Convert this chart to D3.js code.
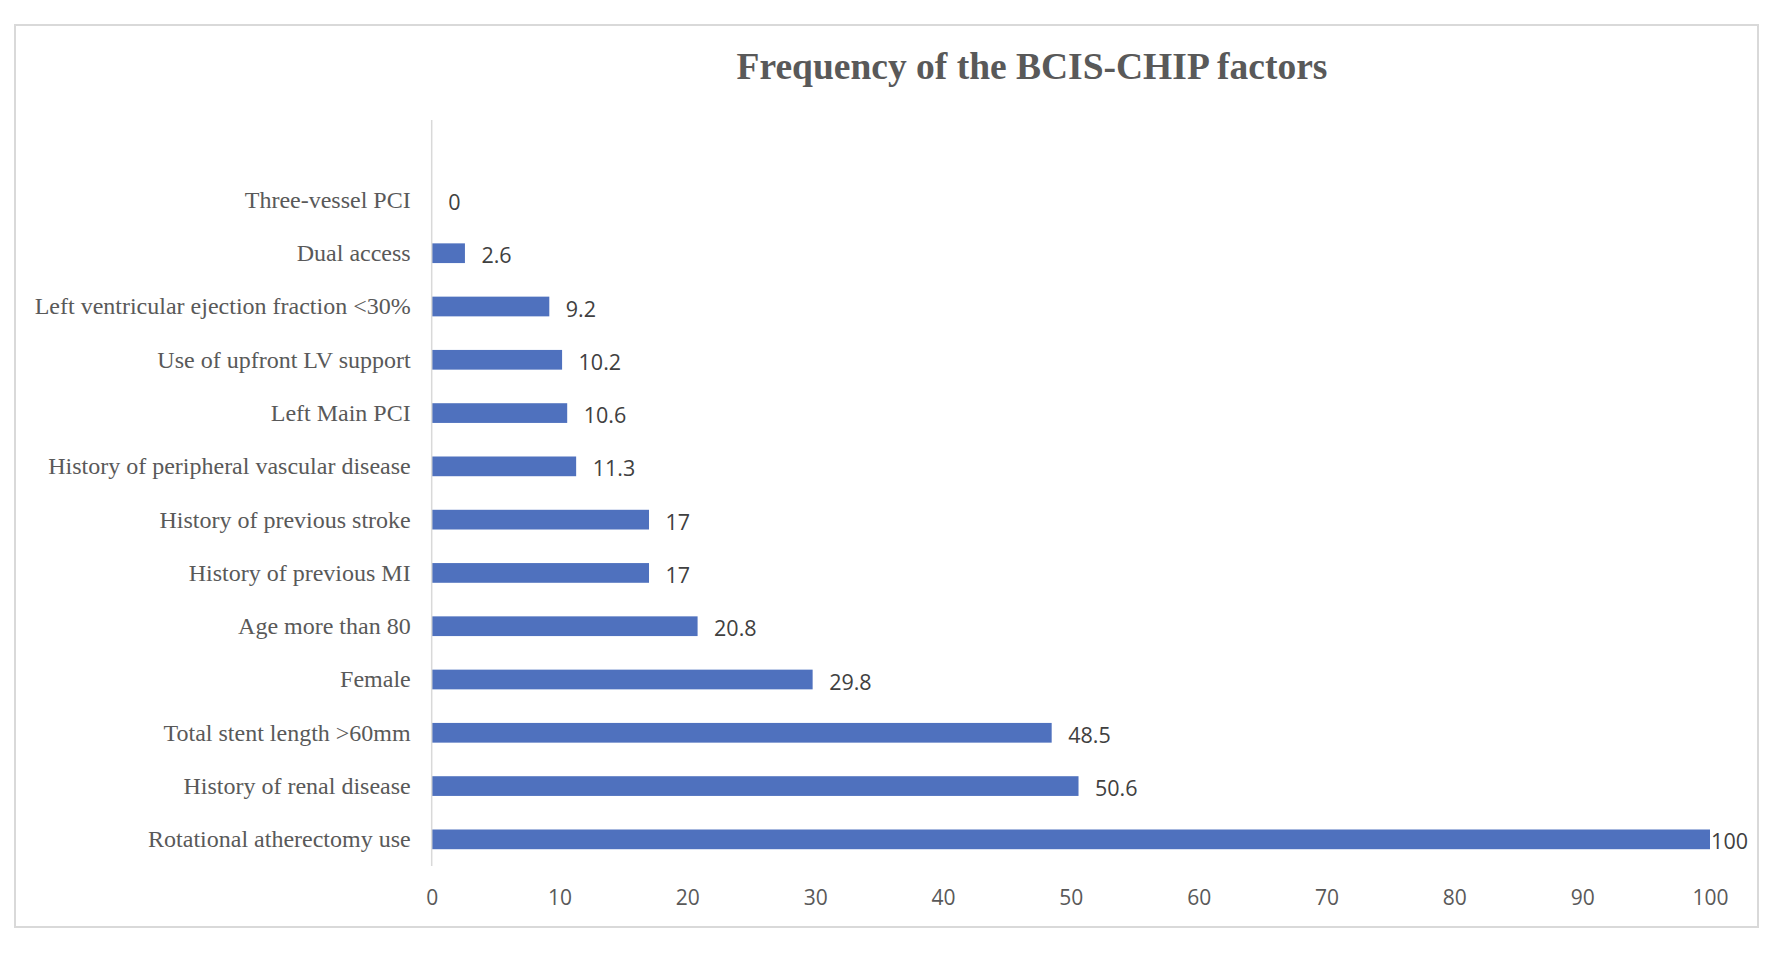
<!DOCTYPE html>
<html>
<head>
<meta charset="utf-8">
<script src="https://cdn.jsdelivr.net/npm/d3@7"></script>
<style>
  html, body { margin: 0; padding: 0; background: #ffffff; }
  svg { display: block; }
</style>
</head>
<body>
<svg id="chart" width="1778" height="954"></svg>
<script>
// ---- data (bottom to top, as drawn) ----
const categories = [
  "Rotational atherectomy use",
  "History of renal disease",
  "Total stent length >60mm",
  "Female",
  "Age more than 80",
  "History of previous MI",
  "History of previous stroke",
  "History of peripheral vascular disease",
  "Left Main PCI",
  "Use of upfront LV support",
  "Left ventricular ejection fraction <30%",
  "Dual access",
  "Three-vessel PCI"
];
const values = [100, 50.6, 48.5, 29.8, 20.8, 17, 17, 11.3, 10.6, 10.2, 9.2, 2.6, 0];
const xTicks = [0, 10, 20, 30, 40, 50, 60, 70, 80, 90, 100];
const title = "Frequency of the BCIS-CHIP factors";

// ---- layout ----
const W = 1778, H = 954;
const frame = { x: 15, y: 25, w: 1743, h: 902 };
const plot = { left: 431.7, right: 1710, top: 120, bottom: 866 };
const slots = categories.length + 1; // plot area reserves one empty slot above the top bar
const slotH = (plot.bottom - plot.top) / slots;

const svg = d3.select("#chart");

svg.append("rect")
  .attr("x", frame.x).attr("y", frame.y)
  .attr("width", frame.w).attr("height", frame.h)
  .attr("fill", "#ffffff")
  .attr("stroke", "#d9d9d9").attr("stroke-width", 2);

const x = d3.scaleLinear().domain([0, 100]).range([plot.left, plot.right]);
const y = d3.scaleBand()
  .domain(categories)
  .range([plot.bottom, plot.bottom - slotH * categories.length])
  .paddingInner(0).paddingOuter(0);

const data = categories.map((c, i) => ({ cat: c, val: values[i] }));

// title
svg.append("text")
  .attr("x", 1032).attr("y", 79)
  .attr("text-anchor", "middle")
  .attr("font-family", "'Liberation Serif', 'Times New Roman', serif")
  .attr("font-weight", "bold")
  .attr("font-size", 37.5)
  .attr("fill", "#595959")
  .text(title);

// bars
const barH = y.bandwidth() * 0.37;
svg.append("g").selectAll("rect")
  .data(data)
  .join("rect")
  .attr("x", x(0))
  .attr("y", d => y(d.cat) + y.bandwidth() / 2 - barH / 2)
  .attr("width", d => x(d.val) - x(0))
  .attr("height", barH)
  .attr("fill", "#4f71be");

// vertical category axis line
svg.append("line")
  .attr("x1", x(0)).attr("x2", x(0))
  .attr("y1", plot.top).attr("y2", plot.bottom)
  .attr("stroke", "#d9d9d9").attr("stroke-width", 1.5);

// category labels via d3 axis
const yAxis = d3.axisLeft(y).tickSize(0).tickPadding(21);
const gy = svg.append("g")
  .attr("transform", `translate(${x(0)},0)`)
  .call(yAxis);
gy.select(".domain").remove();
gy.selectAll("text")
  .attr("font-family", "'Liberation Serif', 'Times New Roman', serif")
  .attr("font-size", 24)
  .attr("fill", "#595959")
  .attr("dy", "0.33em");

// x axis tick labels
const xAxis = d3.axisBottom(x).tickValues(xTicks).tickSize(0).tickPadding(0)
  .tickFormat(d3.format("d"));
const gx = svg.append("g")
  .attr("transform", `translate(0,${plot.bottom})`)
  .call(xAxis);
gx.select(".domain").remove();
gx.selectAll("text")
  .attr("font-family", "'Open Sans', 'Noto Sans', sans-serif")
  .attr("font-size", 21)
  .attr("fill", "#595959")
  .attr("y", 39)
  .attr("dy", 0);

// value labels
const labelRightLimit = frame.x + frame.w - 10;
svg.append("g").selectAll("text")
  .data(data)
  .join("text")
  .attr("font-family", "'Open Sans', 'Noto Sans', sans-serif")
  .attr("font-size", 21.5)
  .attr("fill", "#404040")
  .attr("y", d => y(d.cat) + y.bandwidth() / 2 + 10)
  .text(d => d.val)
  .each(function (d) {
    const w = this.getComputedTextLength();
    let lx = x(d.val) + 16.5;
    if (lx + w > labelRightLimit) lx = labelRightLimit - w;
    d3.select(this).attr("x", lx);
  });
</script>
</body>
</html>
